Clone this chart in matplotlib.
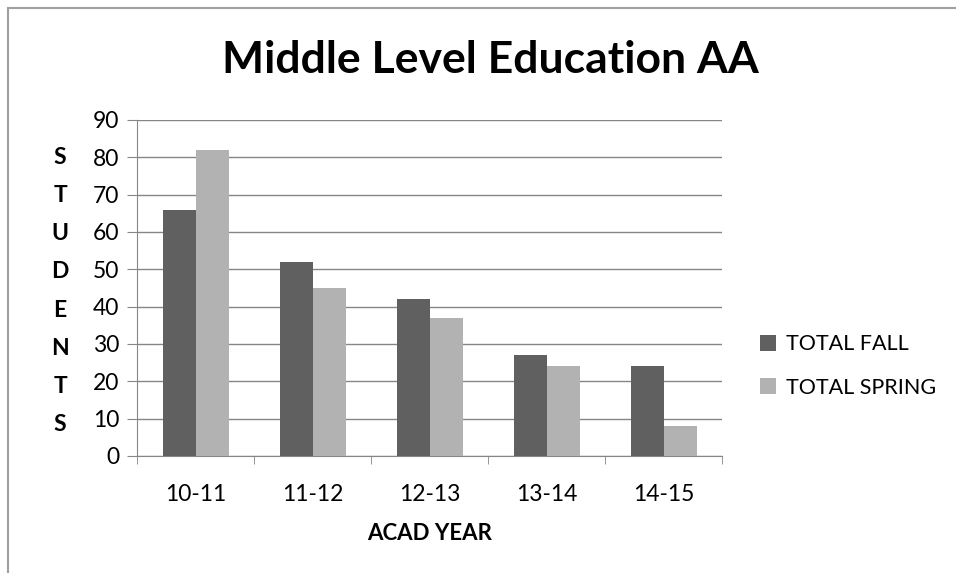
import numpy as np
import matplotlib
matplotlib.use("Agg")
import matplotlib.pyplot as plt
from matplotlib.patches import Rectangle

# data
years = ["10-11", "11-12", "12-13", "13-14", "14-15"]
total_fall = [66, 52, 42, 27, 24]
total_spring = [82, 45, 37, 24, 8]
series_names = ["TOTAL FALL", "TOTAL SPRING"]

plt.rcParams['font.family'] = ['Lato', 'DejaVu Sans']

W, H = 956, 573
fig = plt.figure(figsize=(W / 100, H / 100), dpi=100)
ax = fig.add_axes([137.3 / W, 1 - 456 / H, (722 - 137.3) / W, (456 - 120) / H])

x = np.arange(len(years))
bw = 33 / 117.0
ax.bar(x - bw / 2, total_fall, bw, color="#606060", label=series_names[0], zorder=3)
ax.bar(x + bw / 2, total_spring, bw, color="#b2b2b2", label=series_names[1], zorder=3)

ax.set_xlim(-0.5, len(years) - 0.5)
ax.set_ylim(0, 90)
ax.set_yticks(np.arange(0, 91, 10))
ax.yaxis.grid(True, color="#868686", linewidth=1.0, zorder=0)
ax.set_xticks(x)
ax.set_xticklabels(years, fontsize=16.5)
ax.set_xticks(np.arange(-0.5, len(years)), minor=True)
ax.tick_params(axis="x", which="major", length=0, pad=20)
ax.tick_params(axis="x", which="minor", length=6, color="#868686", direction="out")
ax.tick_params(axis="y", length=7, color="#868686", labelsize=16.5, pad=6)

for s in ["top", "right"]:
    ax.spines[s].set_visible(False)
ax.spines["left"].set_color("#868686")
ax.spines["bottom"].set_color("#868686")

# titles and labels
fig.text(490 / W, 1 - 60 / H, "Middle Level Education AA", ha="center", va="center",
         fontsize=32, fontweight="bold")
fig.text(430 / W, 1 - 533 / H, "ACAD YEAR", ha="center", va="center",
         fontsize=16, fontweight="bold")
fig.text(60 / W, 1 - 291 / H, "\n".join("STUDENTS"), ha="center", va="center",
         fontsize=16.5, fontweight="bold", linespacing=2.01)

ax.legend(loc="center left", bbox_to_anchor=(760 / W, 1 - 366 / H),
          bbox_transform=fig.transFigure, frameon=False, fontsize=15.5,
          borderpad=0, borderaxespad=0,
          handlelength=0.75, handleheight=0.75, handletextpad=0.45, labelspacing=1.1)

# chart border (top and left visible in the crop)
fig.patches.append(Rectangle((8 / W, -0.1), 1.2, 1 - 8 / H + 0.1, transform=fig.transFigure,
                             fill=False, edgecolor="#a0a0a0", linewidth=1.5))

fig.savefig("out.png", dpi=100)
